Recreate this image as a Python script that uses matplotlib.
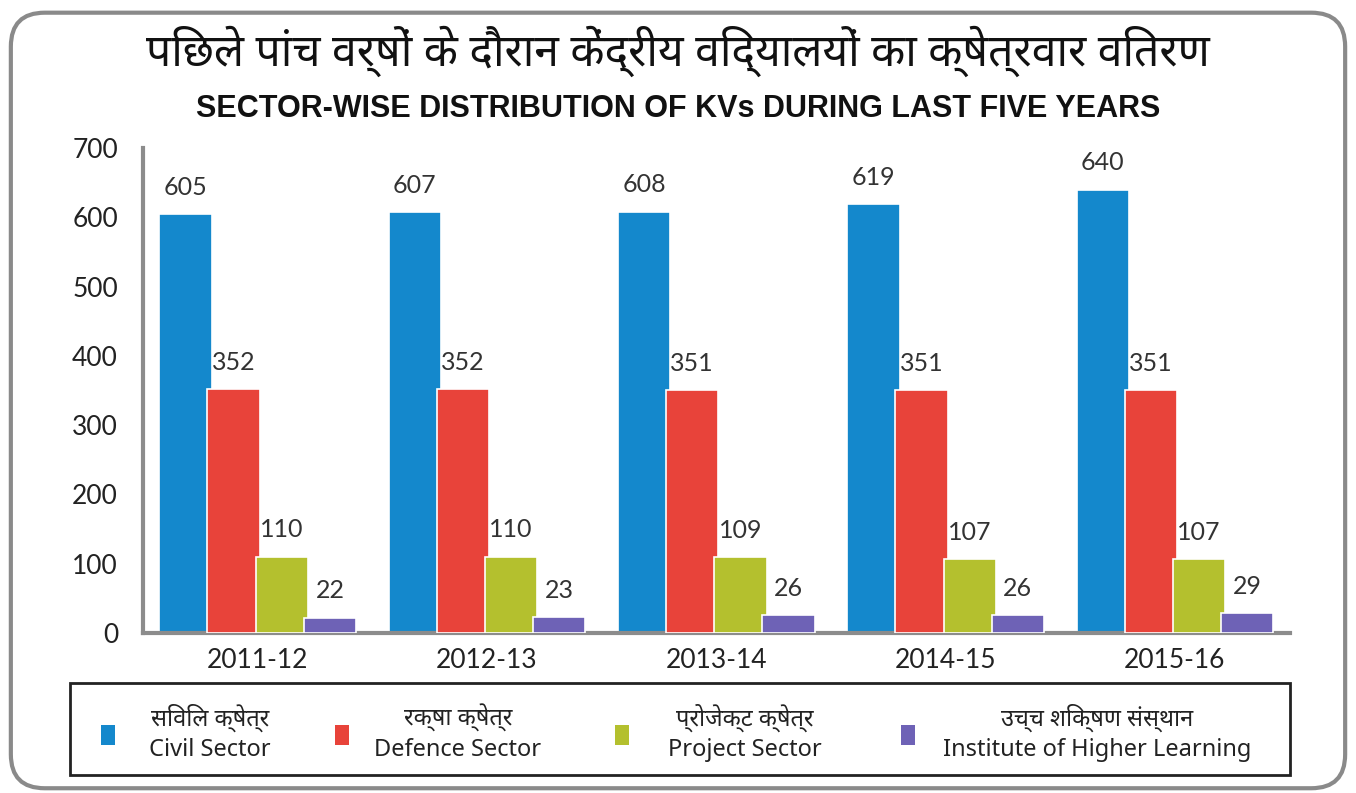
import matplotlib
matplotlib.use('Agg')
import matplotlib.pyplot as plt
import numpy as np
from matplotlib.patches import Rectangle, FancyBboxPatch

years = ['2011-12', '2012-13', '2013-14', '2014-15', '2015-16']
civil = [605, 607, 608, 619, 640]
defence = [352, 352, 351, 351, 351]
project = [110, 110, 109, 107, 107]
higher = [22, 23, 26, 26, 29]

series_labels = ['सिविल क्षेत्र\nCivil Sector', 'रक्षा क्षेत्र\nDefence Sector',
                 'प्रोजेक्ट क्षेत्र\nProject Sector', 'उच्च शिक्षण संस्थान\nInstitute of Higher Learning']
colors = ['#1488cc', '#e8433a', '#b4c02e', '#6e62b6']

title_hi = 'पिछले पांच वर्षों के दौरान केंद्रीय विद्यालयों का क्षेत्रवार वितरण'
title_en = 'SECTOR-WISE DISTRIBUTION OF KVs DURING LAST FIVE YEARS'

hindi_fonts = ['Noto Sans Devanagari', 'Noto Sans', 'DejaVu Sans']
narrow = ['Liberation Sans Narrow', 'Liberation Sans', 'DejaVu Sans']
num_font = ['Lato', 'DejaVu Sans']

fig = plt.figure(figsize=(13.56, 7.93), dpi=100)
fig.patch.set_facecolor('white')

# rounded outer frame
frame = FancyBboxPatch((0.008, 0.006), 0.984, 0.978, boxstyle='round,pad=0,rounding_size=0.025',
                       transform=fig.transFigure, facecolor='none', edgecolor='#8a8a8a', lw=3,
                       mutation_aspect=1356 / 793, zorder=-1)
fig.patches.append(frame)

ax = fig.add_axes([0.1055, 0.2018, 0.8455, 0.6116])
ax.set_facecolor('none')

x = np.arange(len(years))
step = 0.21
width = 0.228
all_vals = [civil, defence, project, higher]
for i, (vals, c) in enumerate(zip(all_vals, colors)):
    pos = x + (i - 1.5) * step
    bars = ax.bar(pos, vals, width=width, color=c, edgecolor='white', linewidth=1.2, zorder=2 + i)
    for b, v in zip(bars, vals):
        ax.annotate(str(v), (b.get_x() + b.get_width() / 2, v), xytext=(0, 11),
                    textcoords='offset points', ha='center', va='bottom',
                    fontsize=18, color='#333333', family=num_font, zorder=10)

ax.set_xlim(-0.5, 4.5)
ax.set_ylim(0, 700)
ax.set_yticks(range(0, 701, 100))
ax.set_xticks(x)
ax.set_xticklabels(years, fontsize=19, family=num_font, color='#222222')
for t in ax.get_yticklabels():
    t.set_fontsize(19)
    t.set_family(num_font)
    t.set_color('#222222')
ax.tick_params(axis='y', length=0, pad=18)
ax.tick_params(axis='x', length=0, pad=11)
for s in ['top', 'right']:
    ax.spines[s].set_visible(False)
ax.spines['left'].set_color('#8c8c8c')
ax.spines['bottom'].set_color('#8c8c8c')
ax.spines['left'].set_linewidth(3)
ax.spines['bottom'].set_linewidth(3)

fig.text(0.5, 0.935, title_hi, ha='center', va='center', fontsize=32, family=hindi_fonts, color='#111111')
fig.text(0.5, 0.862, title_en, ha='center', va='center', fontsize=22, fontweight='bold',
         family=narrow, color='#111111')

# legend box drawn by hand
W, H = 1356, 793
fig.patches.append(Rectangle((70 / W, 18 / H), 1220 / W, 92 / H, transform=fig.transFigure,
                             facecolor='white', edgecolor='#222222', lw=2, zorder=1))
marker_x = [108, 342, 622, 908]
text_x = [210, 458, 745, 1097]
for c, lab, mx, tx in zip(colors, series_labels, marker_x, text_x):
    fig.patches.append(Rectangle(((mx - 7) / W, (793 - 745) / H), 14 / W, 20 / H,
                                 transform=fig.transFigure, facecolor=c, edgecolor='none', zorder=2))
    hi, en = lab.split('\n')
    fig.text(tx / W, (793 - 718) / H, hi, ha='center', va='center', fontsize=17,
             family=hindi_fonts, color='#222222', zorder=3)
    fig.text(tx / W, (793 - 750) / H, en, ha='center', va='center', fontsize=17,
             family=hindi_fonts, color='#222222', zorder=3)

fig.savefig('out.png', dpi=100, facecolor='white')
